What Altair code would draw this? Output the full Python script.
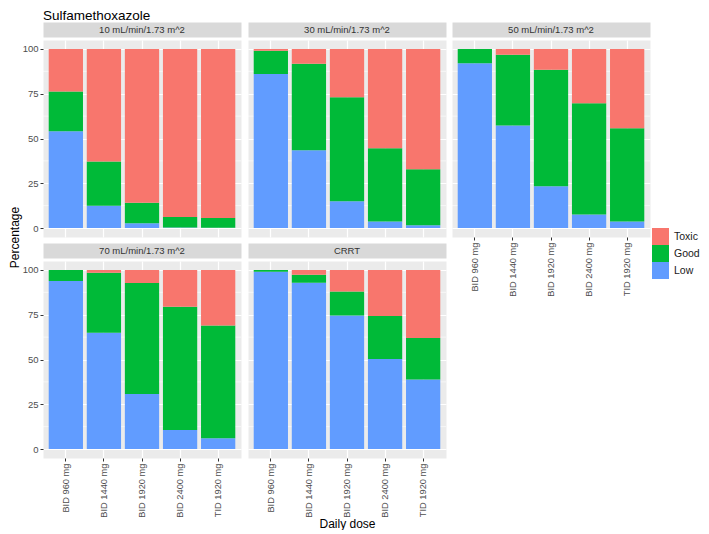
import altair as alt
import pandas as pd

chart_title = "Sulfamethoxazole"
panels = ["10 mL/min/1.73 m^2", "30 mL/min/1.73 m^2", "50 mL/min/1.73 m^2",
          "70 mL/min/1.73 m^2", "CRRT"]
doses = ["BID 960 mg", "BID 1440 mg", "BID 1920 mg", "BID 2400 mg", "TID 1920 mg"]
levels = ["Toxic", "Good", "Low"]
level_colors = ["#F8766D", "#00BA38", "#619CFF"]

low_pct = {
    "10 mL/min/1.73 m^2": [54.0, 12.5, 2.7, 0.3, 0.2],
    "30 mL/min/1.73 m^2": [86.0, 43.4, 14.9, 3.6, 1.5],
    "50 mL/min/1.73 m^2": [92.0, 57.2, 23.4, 7.6, 3.6],
    "70 mL/min/1.73 m^2": [93.8, 65.0, 30.8, 10.6, 6.0],
    "CRRT": [99.0, 92.9, 74.5, 50.3, 38.8],
}
good_pct = {
    "10 mL/min/1.73 m^2": [22.2, 24.6, 11.4, 5.8, 5.4],
    "30 mL/min/1.73 m^2": [13.0, 48.4, 58.2, 40.9, 31.3],
    "50 mL/min/1.73 m^2": [8.0, 39.5, 65.0, 62.1, 52.1],
    "70 mL/min/1.73 m^2": [6.2, 33.4, 61.9, 68.8, 63.0],
    "CRRT": [1.0, 4.4, 13.5, 24.0, 23.2],
}
toxic_pct = {
    "10 mL/min/1.73 m^2": [23.8, 62.9, 85.9, 93.9, 94.4],
    "30 mL/min/1.73 m^2": [1.0, 8.2, 26.9, 55.5, 67.2],
    "50 mL/min/1.73 m^2": [0.0, 3.3, 11.6, 30.3, 44.3],
    "70 mL/min/1.73 m^2": [0.0, 1.6, 7.3, 20.6, 31.0],
    "CRRT": [0.0, 2.7, 12.0, 25.7, 38.0],
}
y_ticks = [0, 25, 50, 75, 100]
y_minor = [12.5, 37.5, 62.5, 87.5]

rows = []
for p in panels:
    for i, d in enumerate(doses):
        rows.append(dict(panel=p, dose=d, level="Low", rank=0, pct=low_pct[p][i]))
        rows.append(dict(panel=p, dose=d, level="Good", rank=1, pct=good_pct[p][i]))
        rows.append(dict(panel=p, dose=d, level="Toxic", rank=2, pct=toxic_pct[p][i]))
df = pd.DataFrame(rows)

FONT = "Liberation Sans"
PW, PH, SH = 198, 197, 15
YSCALE = alt.Scale(domain=[-5, 105], nice=False, zero=False)
PANEL_VIEW = alt.ViewBackground(fill="#EBEBEB", stroke="transparent")
NO_VIEW = alt.ViewBackground(fill="transparent", stroke="transparent")


def make_panel(name, show_y, show_x, x_title=None, with_title=False):
    sub = df[df.panel == name]
    y_axis = alt.Axis(values=y_ticks, grid=True, gridColor="white", gridWidth=1.2,
                      domain=False, ticks=show_y, tickColor="#333333", tickSize=3,
                      labels=show_y, labelColor="#4D4D4D", labelFontSize=9.5,
                      labelPadding=2, labelFont=FONT, title=None)
    x_axis = alt.Axis(bandPosition=0.5, grid=True, gridColor="white", gridWidth=1.2,
                      domain=False, ticks=show_x, tickColor="#333333", tickSize=3,
                      labels=show_x, labelAngle=270, labelColor="#4D4D4D",
                      labelFontSize=9.3, labelPadding=2, labelFont=FONT,
                      title=x_title, titleFont=FONT, titleFontSize=12,
                      titleFontWeight="normal", titleColor="black", titlePadding=1)
    minor = alt.Chart(pd.DataFrame({"pct": y_minor})).mark_rule(
        color="white", strokeWidth=0.6
    ).encode(y=alt.Y("pct:Q", scale=YSCALE, axis=y_axis))
    bars = alt.Chart(sub).mark_bar().encode(
        x=alt.X("dose:N", sort=doses,
                scale=alt.Scale(paddingInner=0.1, paddingOuter=0.15), axis=x_axis),
        y=alt.Y("pct:Q", stack="zero", scale=YSCALE, axis=y_axis),
        color=alt.Color("level:N", scale=alt.Scale(domain=levels, range=level_colors),
                        legend=alt.Legend(title=None, orient="none", legendX=642,
                                          legendY=206, symbolType="square",
                                          symbolSize=289, symbolStrokeWidth=0,
                                          symbolOpacity=1, labelFont=FONT,
                                          labelFontSize=10.5, labelColor="#1A1A1A",
                                          rowPadding=0, labelOffset=5, padding=0)),
        order=alt.Order("rank:Q", sort="ascending"),
    )
    body = alt.layer(minor, bars).properties(width=PW, height=PH, view=PANEL_VIEW)
    strip = alt.Chart(pd.DataFrame({"t": [name]})).mark_text(
        font=FONT, fontSize=9.5, fontWeight="normal", color="#333333",
        baseline="middle", align="center"
    ).encode(text="t:N", x=alt.value(PW / 2), y=alt.value(SH / 2 + 0.5))
    if with_title:
        title_text = alt.Chart(pd.DataFrame({"t": [chart_title]})).mark_text(
            font=FONT, fontSize=13.5, color="black", baseline="top", align="left"
        ).encode(text="t:N", x=alt.value(0), y=alt.value(-13))
        strip = alt.layer(strip, title_text)
    strip = strip.properties(width=PW, height=SH,
                             view=alt.ViewBackground(fill="#D9D9D9", stroke="transparent"))
    return alt.vconcat(strip, body, spacing=1)


row1 = alt.hconcat(make_panel(panels[0], True, False, with_title=True),
                   make_panel(panels[1], False, False), spacing=5)
row2 = alt.hconcat(make_panel(panels[3], True, True),
                   make_panel(panels[4], False, True, "Daily dose"), spacing=5)
left = alt.vconcat(row1, row2, spacing=4)
main = alt.hconcat(left, make_panel(panels[2], False, True), spacing=4)

TH = 2 * (SH + 1 + PH) + 5
ytitle = alt.Chart(pd.DataFrame({"t": ["Percentage"]})).mark_text(
    font=FONT, fontSize=12, color="black", angle=270, baseline="middle", align="center"
).encode(text="t:N", x=alt.value(4.5), y=alt.value(TH / 2)).properties(
    width=9, height=TH, view=NO_VIEW)

chart = alt.hconcat(ytitle, main, spacing=0).properties(
    padding=0,
).configure_view(stroke="transparent").configure(background="white")

chart.save("out.html", embed_options={"renderer": "svg", "actions": False})
